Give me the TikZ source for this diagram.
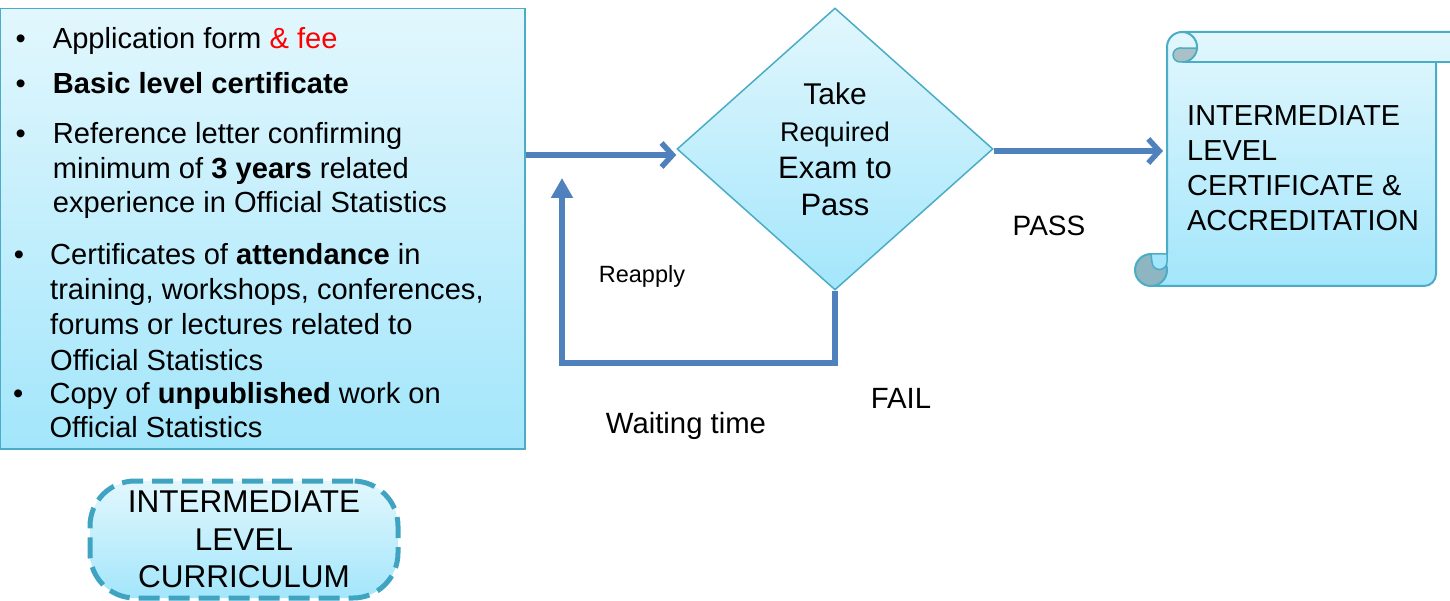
\documentclass[tikz,border=0pt]{standalone}
\usepackage{fontspec}
\setmainfont{Liberation Sans}
\usetikzlibrary{shapes.geometric,arrows.meta}
\definecolor{bord}{HTML}{4BACC6}
\definecolor{dashc}{HTML}{3FA4C1}
\definecolor{ctop}{HTML}{E2F7FD}
\definecolor{cbot}{HTML}{A3E6FB}
\definecolor{flow}{HTML}{4F81BD}
\definecolor{curl}{HTML}{8DB5C2}
\definecolor{curltop}{HTML}{A9C0C6}
\begin{document}
\begin{tikzpicture}[x=1pt,y=-1pt,
  boxfill/.style={top color=ctop,bottom color=cbot},
  flowline/.style={draw=flow,line width=5.5pt},
  barb/.style={-{Straight Barb[length=11pt,width=24pt]}},
  tri/.style={-{Triangle[length=20pt,width=21pt]}},
  txt/.style={inner sep=0pt,font=\fontsize{29.1}{35}\selectfont,anchor=base west},
  bul/.style={inner sep=0pt,font=\fontsize{29.1}{35}\selectfont,anchor=base},
  lbl/.style={inner sep=0pt,font=\fontsize{29.3}{34}\selectfont}]
\useasboundingbox (0,0) rectangle (1450,601);

% requirements box
\node[draw=bord,line width=1.5pt,boxfill,minimum width=525pt,minimum height=440pt,
      inner sep=0pt,anchor=north west] (req) at (-1,8) {};
\node[bul] (b1) at (20.7,48.3) {\textbullet};
\node[txt] (t1) at (52.7,48.3) {Application form \textcolor{red}{\& fee}};
\node[bul] (b2) at (20.7,94) {\textbullet};
\node[txt] (t2) at (52.7,94) {\textbf{Basic level certificate}};
\node[bul] (b3) at (20.7,143.3) {\textbullet};
\node[txt] (t3a) at (52.7,143.3) {Reference letter confirming};
\node[txt] (t3b) at (52.7,178.3) {minimum of \textbf{3 years} related};
\node[txt] (t3c) at (52.7,212.7) {experience in Official Statistics};
\node[bul] (b4) at (19,265) {\textbullet};
\node[txt] (t4a) at (50,265) {Certificates of \textbf{attendance} in};
\node[txt] (t4b) at (50,299.3) {training, workshops, conferences,};
\node[txt] (t4c) at (50,334.3) {forums or lectures related to};
\node[txt] (t4d) at (50,370) {Official Statistics};
\node[bul] (b5) at (18.3,403.3) {\textbullet};
\node[txt] (t5a) at (49.3,403.3) {Copy of \textbf{unpublished} work on};
\node[txt] (t5b) at (49.3,437.7) {Official Statistics};

% curriculum
\node[draw=dashc,line width=5pt,dash pattern=on 21pt off 9pt,rounded corners=45pt,boxfill,
      minimum width=308pt,minimum height=117pt,inner sep=0pt,align=center,
      font=\fontsize{31.5}{37.5}\selectfont] (cur) at (244,539.5) {INTERMEDIATE\\LEVEL\\CURRICULUM};

% decision diamond
\node[diamond,draw=bord,line width=1.5pt,boxfill,minimum width=316pt,minimum height=282pt,
      inner sep=0pt,aspect=1.12,align=center,font=\fontsize{30}{37}\selectfont] (dia) at (835,149)
      {Take\\{\fontsize{27}{37}\selectfont Required}\\{\fontsize{31}{37}\selectfont Exam to}\\{\fontsize{31}{37}\selectfont Pass}};

% scroll
\shade[boxfill] (1167,254) -- (1167,47) arc[start angle=180,end angle=270,radius=15]
  -- (1460,32) -- (1460,62) -- (1436,62) -- (1436,274) arc[start angle=0,end angle=90,radius=12]
  -- (1151,286) arc[start angle=90,end angle=270,radius=16] -- cycle;
\draw[draw=bord,line width=2pt] (1167,254) -- (1167,47) arc[start angle=180,end angle=270,radius=15]
  -- (1460,32);
\draw[draw=bord,line width=2pt] (1182,62) -- (1460,62);
\draw[draw=bord,line width=2pt] (1436,62) -- (1436,274) arc[start angle=0,end angle=90,radius=12]
  -- (1151,286);
\draw[draw=bord,line width=2pt] (1182,32) arc[start angle=-90,end angle=90,radius=15];
\filldraw[fill=curltop,draw=bord,line width=1.5pt] (1180,62) arc[start angle=90,end angle=270,radius=7]
  -- (1196.96,48.05) arc[start angle=4,end angle=90,radius=15] -- cycle;
\filldraw[fill=curl,draw=bord,line width=2pt] (1151,270) circle[radius=16];
\filldraw[fill=cbot,draw=bord,line width=1.5pt] (1151,254) -- (1167,254) -- (1167,262)
  arc[start angle=0,end angle=180,radius=7.5] -- cycle;
\node[inner sep=0pt,anchor=north west,align=left,font=\fontsize{28.9}{35}\selectfont] (scroll) at (1187,105)
  {INTERMEDIATE\\LEVEL\\CERTIFICATE \&\\ACCREDITATION};

% connectors
\coordinate (a1) at (0,155);
\coordinate (scrollL) at (1163,151);
\coordinate (up) at (562,178);
\draw[flowline,barb] (req.east |- a1) -- (dia.west |- a1);
\draw[flowline,barb] (dia.east |- scrollL) -- (scrollL);
\draw[flowline,tri] (dia.south) -- ++(0,72) -| (up);

% labels
\node[lbl,font=\fontsize{28}{32}\selectfont] (pass) at (1049,226) {PASS};
\node[lbl,font=\fontsize{23.5}{28}\selectfont] (reapply) at (642,276) {Reapply};
\node[lbl] (fail) at (901,398) {FAIL};
\node[lbl] (wait) at (686,426) {Waiting time};
\end{tikzpicture}
\end{document}
